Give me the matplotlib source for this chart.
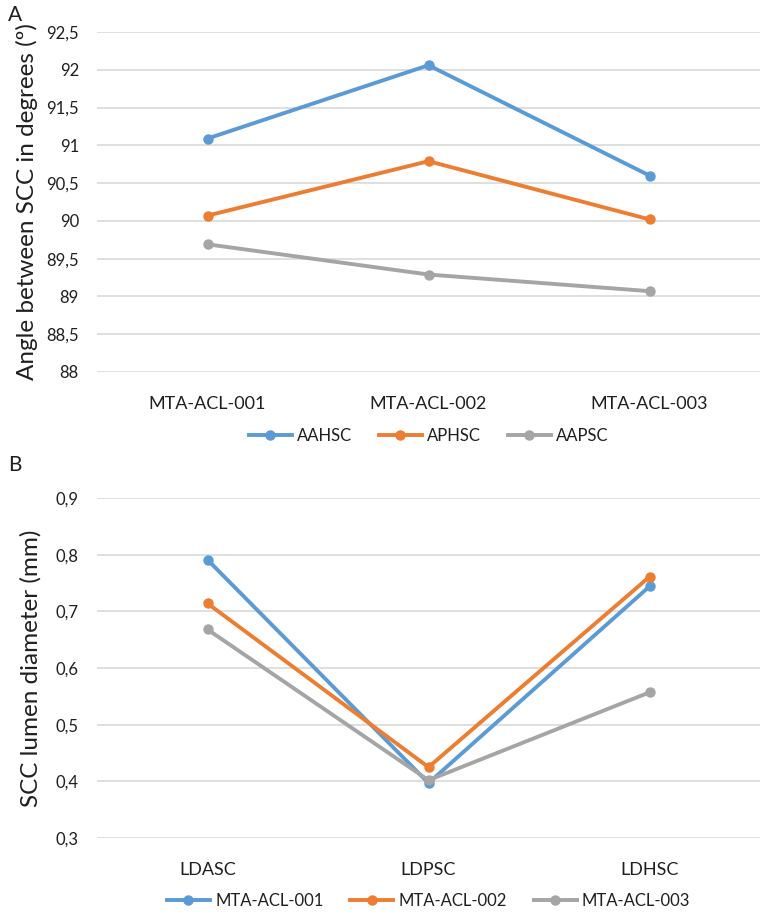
import matplotlib
matplotlib.use('Agg')
import matplotlib.pyplot as plt

plt.rcParams['font.family'] = ['Lato', 'DejaVu Sans']

# panel A data
samples = ['MTA-ACL-001', 'MTA-ACL-002', 'MTA-ACL-003']
aahsc = [91.09, 92.06, 90.60]
aphsc = [90.07, 90.79, 90.02]
aapsc = [89.69, 89.29, 89.07]

# panel B data
canals = ['LDASC', 'LDPSC', 'LDHSC']
acl001 = [0.791, 0.397, 0.744]
acl002 = [0.714, 0.425, 0.761]
acl003 = [0.668, 0.402, 0.557]

colors = ['#5B9BD5', '#ED7D31', '#A5A5A5']
txt = '#1f1f1f'

W, H = 777, 914
fig = plt.figure(figsize=(W / 100, H / 100), dpi=100)

axA = fig.add_axes([97 / W, 1 - 372 / H, 663 / W, 340 / H])
axB = fig.add_axes([97 / W, 1 - 838 / H, 663 / W, 340 / H])


def style(ax, ylim, yticks, ylabels):
    ax.set_xlim(-0.5, 2.5)
    ax.set_ylim(*ylim)
    ax.set_yticks(yticks)
    ax.set_yticklabels(ylabels)
    for s in ax.spines.values():
        s.set_visible(False)
    ax.grid(axis='y', color='#d9d9d9', linewidth=1.2)
    ax.set_axisbelow(True)
    ax.tick_params(length=0, labelsize=12, colors=txt)
    ax.tick_params(axis='y', pad=13)
    ax.tick_params(axis='x', pad=17, labelsize=13)


series_a = [('AAHSC', aahsc), ('APHSC', aphsc), ('AAPSC', aapsc)]
for (name, vals), c in zip(series_a, colors):
    axA.plot(range(len(samples)), vals, color=c, lw=2.8, marker='o', ms=6.5, label=name)
axA.set_xticks(range(len(samples)))
axA.set_xticklabels(samples)
yt = [88 + 0.5 * i for i in range(10)]
style(axA, (88, 92.5), yt, [('%g' % v).replace('.', ',') for v in yt])
axA.set_ylabel('Angle between SCC in degrees (º)', fontsize=17.5, color=txt, labelpad=6)
axA.legend(loc='upper center', bbox_to_anchor=(0.5, -0.12), ncol=3, frameon=False,
           fontsize=12, handlelength=2.6, columnspacing=1.6, handletextpad=0.3,
           labelcolor=txt)

series_b = [('MTA-ACL-001', acl001), ('MTA-ACL-002', acl002), ('MTA-ACL-003', acl003)]
for (name, vals), c in zip(series_b, colors):
    axB.plot(range(len(canals)), vals, color=c, lw=2.8, marker='o', ms=6.5, label=name)
axB.set_xticks(range(len(canals)))
axB.set_xticklabels(canals)
yt2 = [0.3 + 0.1 * i for i in range(7)]
style(axB, (0.3, 0.9), yt2, [('%.1f' % v).replace('.', ',') for v in yt2])
axB.set_ylabel('SCC lumen diameter (mm)', fontsize=17.5, color=txt, labelpad=10)
axB.legend(loc='upper center', bbox_to_anchor=(0.5, -0.135), ncol=3, frameon=False,
           fontsize=12, handlelength=2.6, columnspacing=1.6, handletextpad=0.3,
           labelcolor=txt, borderaxespad=0.15)

fig.text(8 / W, 1 - 15 / H, 'A', fontsize=15, color=txt, va='center', ha='left')
fig.text(8 / W, 1 - 465 / H, 'B', fontsize=15, color=txt, va='center', ha='left')

fig.savefig('out.png', dpi=100)
